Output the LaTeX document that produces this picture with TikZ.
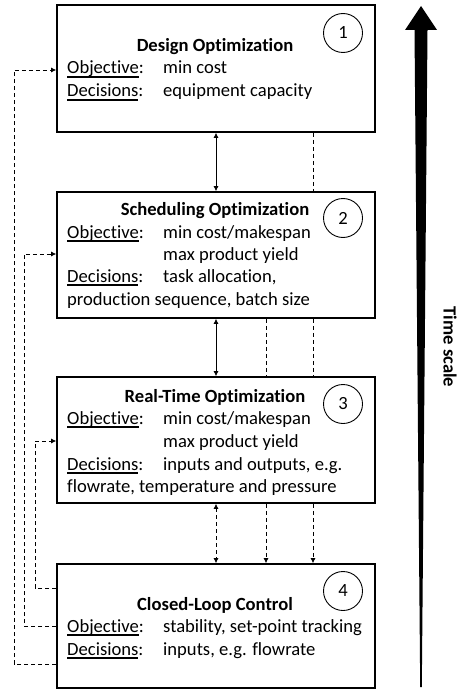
\documentclass[tikz,border=0pt]{standalone}
\usepackage{fontspec}
\setmainfont{Carlito}[Ligatures={NoCommon,NoContextual},RawFeature={-liga;-clig;-dlig}]
\usetikzlibrary{arrows.meta,calc}
% underline with a heavier rule, placed just below the baseline
\newcommand\ulword[1]{\setbox0\hbox{#1}\rlap{\rule[-3.6pt]{\wd0}{1.4pt}}\box0}
\begin{document}
\begin{tikzpicture}[x=1pt,y=-1pt,
  box/.style={draw,line width=1.6pt,minimum width=318pt,inner sep=0pt},
  title/.style={anchor=base,font=\fontsize{18.6}{22}\selectfont\bfseries,inner sep=0pt},
  txt/.style={anchor=base west,font=\fontsize{18.6}{22}\selectfont,inner sep=0pt},
  numc/.style={draw,circle,line width=0.9pt,minimum size=39pt,inner sep=0pt,font=\fontsize{18.6}{22}\selectfont},
  link/.style={line width=0.8pt,{Latex[length=5pt,width=5pt]}-{Latex[length=5pt,width=5pt]}},
  dlink/.style={line width=0.8pt,dash pattern=on 4pt off 3pt},
  tip/.style={-{Latex[length=5pt,width=5pt]}}]
\useasboundingbox (0,0) rectangle (457,690);

% level boxes
\node[box,minimum height=127pt] (b1) at (216,68.5) {};
\node[box,minimum height=126pt] (b2) at (216,255) {};
\node[box,minimum height=126pt] (b3) at (216,440) {};
\node[box,minimum height=124pt] (b4) at (216,626) {};

% level numbers
\node[numc] (n1) at (343,33) {1};
\node[numc] (n2) at (343,218) {2};
\node[numc] (n3) at (343,404) {3};
\node[numc] (n4) at (343,591) {4};

% box 1
\node[title] (t1) at (215,52) {Design Optimization};
\node[txt] (o1) at (67,74) {\ulword{Objective}:};
\node[txt] (o1v) at (163,74) {min cost};
\node[txt] (d1) at (67,97) {\ulword{Decisions}:};
\node[txt] (d1v) at (163,97) {equipment capacity};

% box 2
\node[title] (t2) at (215,215) {Scheduling Optimization};
\node[txt] (o2) at (67,238) {\ulword{Objective}:};
\node[txt] (o2v) at (163,238) {min cost/makespan};
\node[txt] (o2w) at (163,260) {max product yield};
\node[txt] (d2) at (67,282) {\ulword{Decisions}:};
\node[txt] (d2v) at (163,282) {task allocation,};
\node[txt] (d2w) at (67,305) {production sequence, batch size};

% box 3
\node[title] (t3) at (215,402) {Real-Time Optimization};
\node[txt] (o3) at (67,424) {\ulword{Objective}:};
\node[txt] (o3v) at (163,424) {min cost/makespan};
\node[txt] (o3w) at (163,447) {max product yield};
\node[txt] (d3) at (67,470) {\ulword{Decisions}:};
\node[txt] (d3v) at (163,470) {inputs and outputs, e.g.};
\node[txt] (d3w) at (67,492) {flowrate, temperature and pressure};

% box 4
\node[title] (t4) at (215,610) {Closed-Loop Control};
\node[txt] (o4) at (67,632) {\ulword{Objective}:};
\node[txt] (o4v) at (163,632) {stability, set-point tracking};
\node[txt] (d4) at (67,655) {\ulword{Decisions}:};
\node[txt] (d4v) at (163,655) {inputs, e.g. flowrate};

% vertical links between levels
\coordinate (xa) at (266,0);
\coordinate (xb) at (313,0);
\draw[link] (b1.south) -- (b2.north);
\draw[link] (b2.south) -- (b3.north);
\draw[link,dlink] (b3.south) -- (b4.north);
\draw[dlink] (b1.south -| xb) -- (b2.north -| xb);
\draw[dlink] (b2.south -| xb) -- (b3.north -| xb);
\draw[dlink,tip] (b3.south -| xb) -- (b4.north -| xb);
\draw[dlink] (b2.south -| xa) -- (b3.north -| xa);
\draw[dlink,tip] (b3.south -| xa) -- (b4.north -| xa);

% feedback from control level to upper levels
\draw[dlink,tip] (b4.west |- 0,664) -- (14,664) |- (b1.west |- 0,70);
\draw[dlink,tip] (b4.west |- 0,626) -- (24,626) |- (b2.west |- 0,254);
\draw[dlink,tip] (b4.west |- 0,588) -- (35,588) |- (b3.west |- 0,441);

% time scale arrow
\fill (421,6) -- (437,30) -- (427.5,30) -- (421.8,687) -- (420.2,687) -- (414.5,30) -- (405,30) -- cycle;
\node[rotate=-90,font=\fontsize{18.6}{22}\selectfont\bfseries,inner sep=0pt] (ts) at (450,347) {Time scale};
\end{tikzpicture}
\end{document}
